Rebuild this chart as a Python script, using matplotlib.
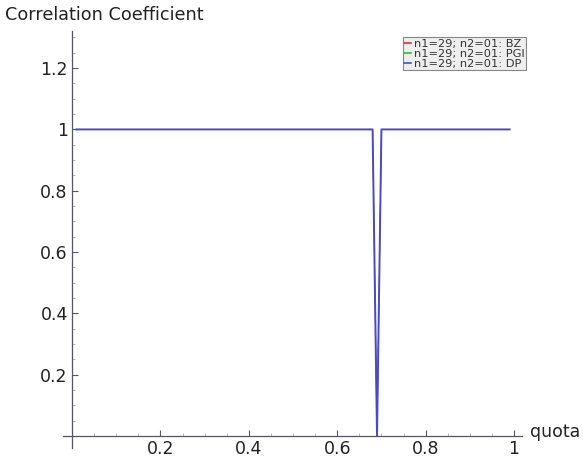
import matplotlib
matplotlib.use("Agg")
import matplotlib.pyplot as plt
from matplotlib.ticker import MultipleLocator, FixedLocator

# quota values 0.01 .. 0.99
quota = [0.01, 0.02, 0.03, 0.04, 0.05, 0.06, 0.07, 0.08, 0.09, 0.10,
         0.11, 0.12, 0.13, 0.14, 0.15, 0.16, 0.17, 0.18, 0.19, 0.20,
         0.21, 0.22, 0.23, 0.24, 0.25, 0.26, 0.27, 0.28, 0.29, 0.30,
         0.31, 0.32, 0.33, 0.34, 0.35, 0.36, 0.37, 0.38, 0.39, 0.40,
         0.41, 0.42, 0.43, 0.44, 0.45, 0.46, 0.47, 0.48, 0.49, 0.50,
         0.51, 0.52, 0.53, 0.54, 0.55, 0.56, 0.57, 0.58, 0.59, 0.60,
         0.61, 0.62, 0.63, 0.64, 0.65, 0.66, 0.67, 0.68, 0.69, 0.70,
         0.71, 0.72, 0.73, 0.74, 0.75, 0.76, 0.77, 0.78, 0.79, 0.80,
         0.81, 0.82, 0.83, 0.84, 0.85, 0.86, 0.87, 0.88, 0.89, 0.90,
         0.91, 0.92, 0.93, 0.94, 0.95, 0.96, 0.97, 0.98, 0.99]

# correlation is 1 everywhere except a drop to 0 at quota = 0.69
corr_bz = [1] * 68 + [0] + [1] * 30
corr_pgi = [1] * 68 + [0] + [1] * 30
corr_dp = [1] * 68 + [0] + [1] * 30

labels = ["n1=29; n2=01: BZ", "n1=29; n2=01: PGI", "n1=29; n2=01: DP"]
colors = ["#e03030", "#30c030", "#4a4ac8"]

x_ticks = [0.2, 0.4, 0.6, 0.8, 1]
x_ticklabels = ["0.2", "0.4", "0.6", "0.8", "1"]
y_ticks = [0.2, 0.4, 0.6, 0.8, 1, 1.2]
y_ticklabels = ["0.2", "0.4", "0.6", "0.8", "1", "1.2"]

fig = plt.figure(figsize=(5.83, 4.57), dpi=100)
ax = fig.add_axes([63 / 583, 1 - 448 / 457, (522 - 63) / 583, (448 - 31) / 457])
ax.set_xlim(-0.0204, 1.018)
ax.set_ylim(-0.039, 1.321)

# red and green lie under the blue one, thinner so they don't tint its edges
widths = [0.6, 0.6, 1.4]
for yv, lab, col, w in zip([corr_bz, corr_pgi, corr_dp], labels, colors, widths):
    ax.plot(quota, yv, color=col, lw=w, label=lab)

axis_col = "#555566"
for s in ["top", "right"]:
    ax.spines[s].set_visible(False)
ax.spines["left"].set_position(("data", 0))
ax.spines["bottom"].set_position(("data", 0))
for s in ["left", "bottom"]:
    ax.spines[s].set_color(axis_col)
    ax.spines[s].set_linewidth(0.9)

ax.xaxis.set_major_locator(FixedLocator(x_ticks))
ax.set_xticklabels(x_ticklabels)
ax.yaxis.set_major_locator(FixedLocator(y_ticks))
ax.set_yticklabels(y_ticklabels)
ax.xaxis.set_minor_locator(MultipleLocator(0.05))
ax.yaxis.set_minor_locator(MultipleLocator(0.05))
ax.tick_params(which="major", direction="in", length=4, width=0.8, color=axis_col,
               labelsize=12.5, labelcolor="#222222", pad=3)
ax.tick_params(which="minor", direction="in", length=2, width=0.6, color="#aaaaaa")

fig.text(5 / 583, 1 - 15 / 457, "Correlation Coefficient", fontsize=12.7,
         color="#222222", ha="left", va="center")
fig.text(530 / 583, 1 - 432 / 457, "quota", fontsize=12.5, color="#222222",
         ha="left", va="center")

leg = ax.legend(loc="upper right", bbox_to_anchor=(526 / 583, 1 - 37 / 457),
                bbox_transform=fig.transFigure, fontsize=8.2, frameon=True,
                fancybox=False, handlelength=0.6, handletextpad=0.2,
                labelspacing=0.0, borderpad=0.15, borderaxespad=0)
leg.get_frame().set_facecolor("#eeeeee")
leg.get_frame().set_edgecolor("#888888")
leg.get_frame().set_linewidth(0.8)
leg.get_frame().set_alpha(1)
for t in leg.get_texts():
    t.set_color("#333333")
for h in leg.get_lines():
    h.set_linewidth(1.2)

fig.savefig("out.png", dpi=100)
